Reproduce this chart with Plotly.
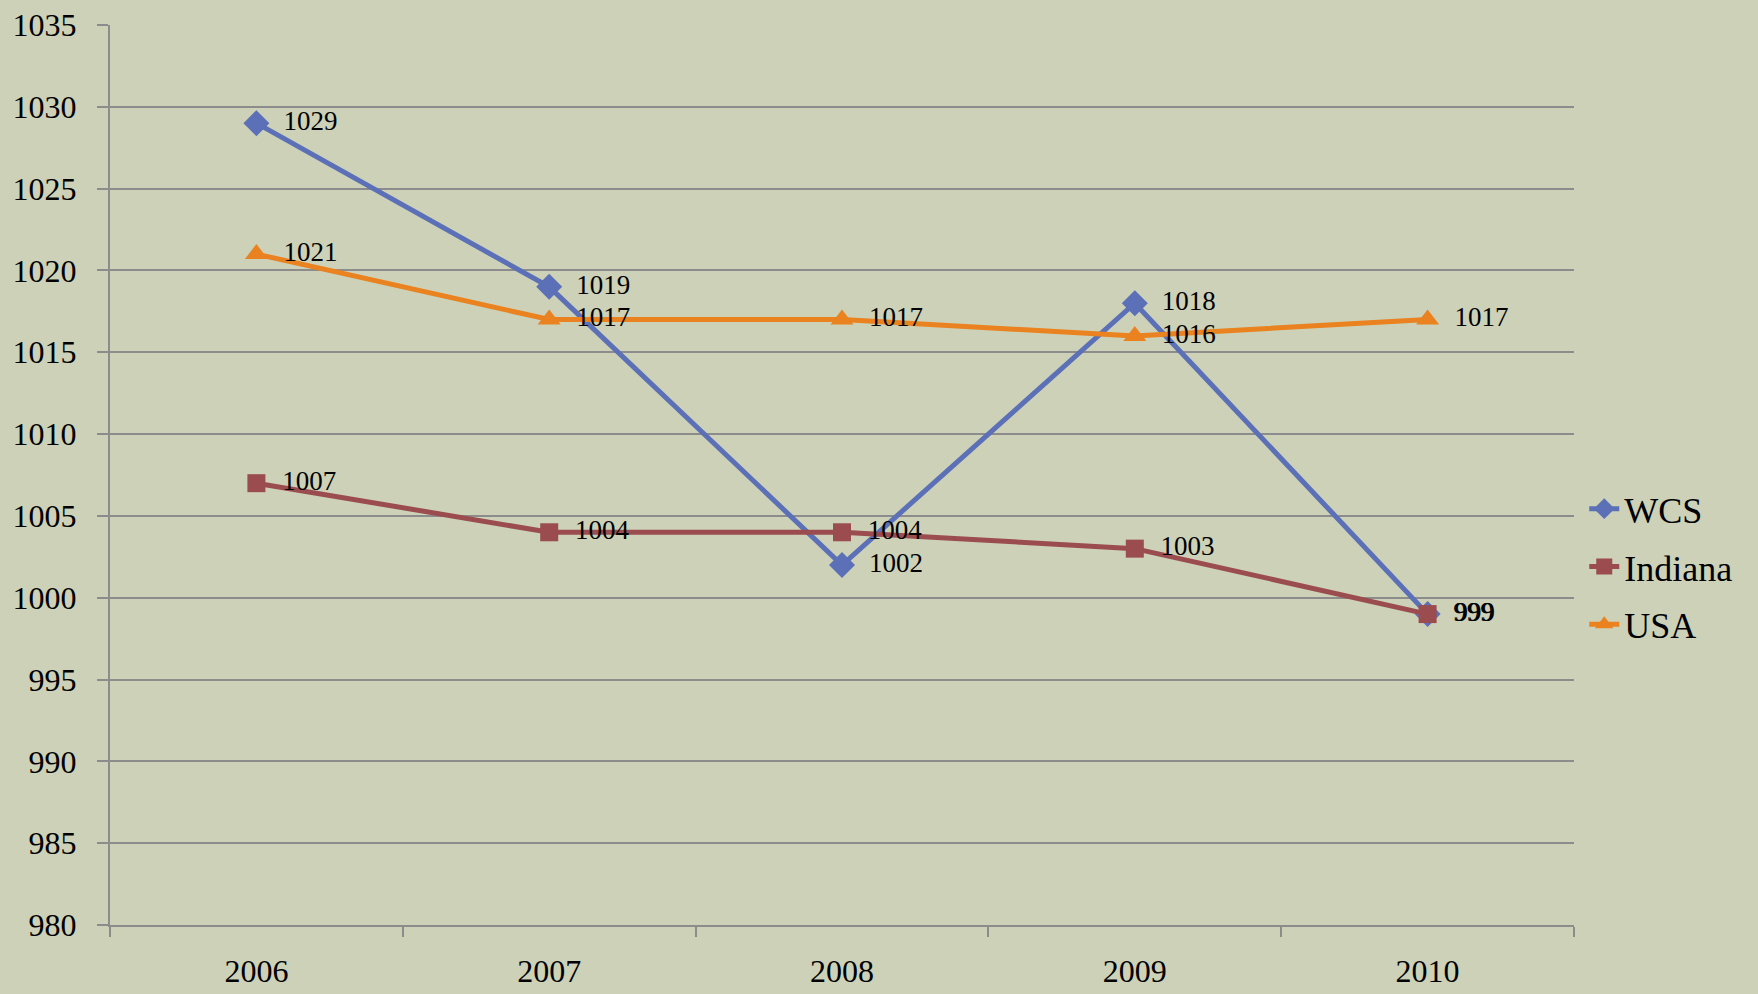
import plotly.graph_objects as go

years = ["2006", "2007", "2008", "2009", "2010"]
wcs = [1029, 1019, 1002, 1018, 999]
indiana = [1007, 1004, 1004, 1003, 999]
usa = [1021, 1017, 1017, 1016, 1017]

series = [
    ("WCS", wcs, "#5B70B6", "diamond", 20),
    ("Indiana", indiana, "#9B4C4E", "square", 18),
    ("USA", usa, "#E9821F", "triangle-up", 20),
]

FONT = "Liberation Serif"
fig = go.Figure()
for i, (name, vals, color, sym, size) in enumerate(series):
    fig.add_trace(go.Scatter(
        x=years, y=vals, name=name, mode="lines+markers+text",
        line=dict(color=color, width=5),
        marker=dict(symbol=sym, size=size, color=color),
        texttemplate="  %{y}", textposition="middle right",
        textfont=dict(family=FONT, size=27, color="black"),
        legendgroup=name, cliponaxis=False,
    ))

fig.update_layout(
    width=1758, height=994,
    margin=dict(l=110, r=184, t=25, b=69),
    paper_bgcolor="#CCD1B8", plot_bgcolor="#CCD1B8",
    font=dict(family=FONT, size=32, color="black"),
    showlegend=True,
    legend=dict(x=1.007, xanchor="left", y=0.398, yanchor="middle",
                font=dict(family=FONT, size=36, color="black"),
                bgcolor="rgba(0,0,0,0)", tracegroupgap=8, traceorder="grouped",
                itemwidth=30),
    xaxis=dict(type="category", tickson="boundaries", ticks="outside", ticklen=10,
               tickcolor="#8C8C8C", tickwidth=2, showgrid=False, showline=True,
               linecolor="#8C8C8C", linewidth=2, ticklabelstandoff=17,
               range=[-0.5, 4.5], automargin=False),
    yaxis=dict(range=[980, 1035], dtick=5, tick0=980, showgrid=True,
               gridcolor="#8C8C8C", gridwidth=2, ticks="outside", ticklen=11,
               tickcolor="#8C8C8C", tickwidth=2, showline=True, linecolor="#8C8C8C",
               linewidth=2, zeroline=False, ticklabelstandoff=14, automargin=False),
)

fig.write_html("out.html", config={"displayModeBar": False},
               post_script="document.body.style.margin='0';document.body.style.overflow='hidden';")
